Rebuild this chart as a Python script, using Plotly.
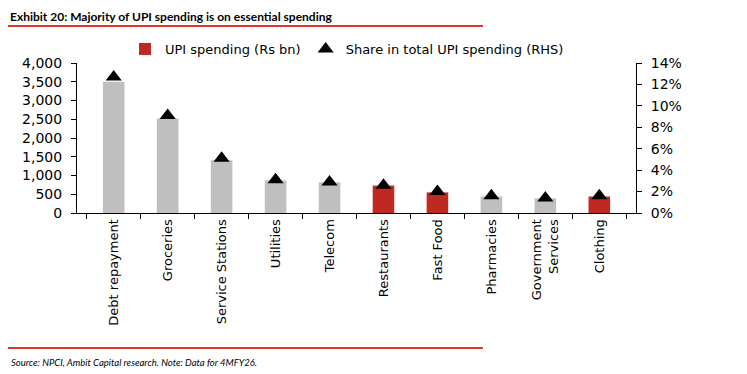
import plotly.graph_objects as go

categories = ["Debt repayment", "Groceries", "Service Stations", "Utilities", "Telecom",
              "Restaurants", "Fast Food", "Pharmacies", "Government<br>Services", "Clothing"]
spending = [3500, 2520, 1410, 870, 820, 730, 550, 440, 390, 440]
share = [12.7, 9.1, 5.1, 3.1, 2.9, 2.6, 2.0, 1.6, 1.4, 1.6]
highlight = [False, False, False, False, False, True, True, False, False, True]
left_ticks = [0, 500, 1000, 1500, 2000, 2500, 3000, 3500, 4000]
right_ticks = [0, 2, 4, 6, 8, 10, 12, 14]

GREY = "#BFBFBF"
RED = "#BE2A22"
LINE_RED = "#E0352A"
FONT = "DejaVu Sans"
TFONT = "Lato"

# page body has an 8px default margin: figure drawn at (8, 8)
OFF = 8
W, H = 747 - OFF, 374 - OFF
# plot area in reference (window) px
L, R, T, B = 77, 636, 63, 213
pw, ph = R - L, B - T

def px_x(p):
    return (p - L) / pw

def px_y(p):
    return (B - p) / ph

red_x = [c for c, h in zip(categories, highlight) if h]
red_y = [v for v, h in zip(spending, highlight) if h]
grey_x = [c for c, h in zip(categories, highlight) if not h]
grey_y = [v for v, h in zip(spending, highlight) if not h]

fig = go.Figure()
fig.add_trace(go.Bar(x=red_x, y=red_y, name="UPI spending (Rs bn)", marker_color=RED,
                     marker_line_width=0))
fig.add_trace(go.Bar(x=grey_x, y=grey_y, name="UPI spending grey", marker_color=GREY,
                     marker_line_width=0, showlegend=False))
fig.add_trace(go.Scatter(x=categories, y=[s / 100 for s in share], yaxis="y2", mode="markers",
                         name="Share in total UPI spending (RHS)",
                         marker=dict(symbol="triangle-up", size=14, color="black")))

fig.update_layout(
    width=W, height=H,
    margin=dict(l=L - OFF, r=747 - R, t=T - OFF, b=374 - B, pad=0, autoexpand=False),
    paper_bgcolor="white", plot_bgcolor="white",
    font=dict(family=FONT, size=13, color="black"),
    barmode="overlay", bargap=0.6,
    showlegend=True,
    legend=dict(orientation="h", x=px_x(125), y=px_y(49), xanchor="left", yanchor="middle",
                font=dict(size=13), bgcolor="rgba(0,0,0,0)", itemwidth=30,
                traceorder="normal"),
    xaxis=dict(categoryorder="array", categoryarray=categories, tickangle=-90,
               showline=True, linecolor="black", linewidth=1,
               ticks="outside", ticklen=5, tickcolor="black", tickson="boundaries",
               showgrid=False, zeroline=False, tickfont=dict(size=13)),
    yaxis=dict(range=[0, 4000], tickvals=left_ticks, tickformat=",",
               showline=True, linecolor="black", linewidth=1,
               ticks="outside", ticklen=5, tickcolor="black",
               showgrid=False, zeroline=False, ticklabelstandoff=6,
               tickfont=dict(size=14)),
    yaxis2=dict(range=[0, 0.14], tickvals=[t / 100 for t in right_ticks], tickformat=".0%",
                overlaying="y", side="right",
                showline=True, linecolor="black", linewidth=1,
                ticks="outside", ticklen=5, tickcolor="black",
                showgrid=False, zeroline=False, ticklabelstandoff=6,
                tickfont=dict(size=14)),
    shapes=[
        dict(type="line", xref="paper", yref="paper", x0=px_x(8), x1=px_x(483),
             y0=px_y(26), y1=px_y(26), line=dict(color=LINE_RED, width=2)),
        dict(type="line", xref="paper", yref="paper", x0=px_x(8), x1=px_x(483),
             y0=px_y(348), y1=px_y(348), line=dict(color=LINE_RED, width=2)),
    ],
    annotations=[
        dict(text="<b>Exhibit 20: Majority of UPI spending is on essential spending</b>",
             xref="paper", yref="paper", x=px_x(9), y=px_y(16), xanchor="left",
             yanchor="middle", showarrow=False, borderpad=0,
             font=dict(family=TFONT, size=12, color="black")),
        dict(text="<i>Source: NPCI, Ambit Capital research. Note: Data for 4MFY26.</i>",
             xref="paper", yref="paper", x=px_x(9), y=px_y(362), xanchor="left",
             yanchor="middle", showarrow=False,
             font=dict(family=TFONT, size=9.5, color="black")),
    ],
)

fig.write_html("out.html")
